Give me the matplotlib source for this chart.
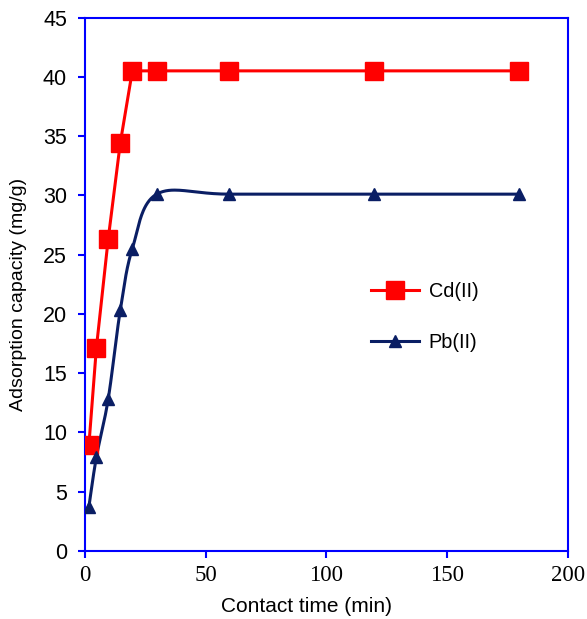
import numpy as np
import matplotlib.pyplot as plt

plt.rcParams["font.family"] = ["Liberation Sans", "DejaVu Sans"]
plt.rcParams["font.serif"] = ["Liberation Serif", "DejaVu Serif"]

# contact time (min) and adsorption capacity (mg/g)
time_min = [1.6, 4.7, 9.6, 14.6, 19.6, 29.7, 59.7, 119.7, 179.7]
cd_capacity = [8.9, 17.1, 26.3, 34.4, 40.5, 40.5, 40.5, 40.5, 40.5]
pb_capacity = [3.7, 7.9, 12.8, 20.3, 25.5, 30.1, 30.1, 30.1, 30.1]

x_ticks = [0, 50, 100, 150, 200]
y_ticks = [0, 5, 10, 15, 20, 25, 30, 35, 40, 45]


def smooth(xs, ys, xspan, yspan, n=40):
    # Catmull-Rom spline, like Excel's "smoothed line"
    px = np.asarray(xs, float) / xspan
    py = np.asarray(ys, float) / yspan
    px = np.concatenate([[px[0]], px, [px[-1]]])
    py = np.concatenate([[py[0]], py, [py[-1]]])
    outx, outy = [], []
    t = np.linspace(0, 1, n)
    for i in range(1, len(px) - 2):
        p0, p1, p2, p3 = [np.array([px[j], py[j]]) for j in (i - 1, i, i + 1, i + 2)]
        c1 = p1 + (p2 - p0) / 6
        c2 = p2 - (p3 - p1) / 6
        for tt in t:
            b = ((1 - tt) ** 3) * p1 + 3 * ((1 - tt) ** 2) * tt * c1 + 3 * (1 - tt) * tt ** 2 * c2 + tt ** 3 * p2
            outx.append(b[0] * xspan)
            outy.append(b[1] * yspan)
    return outx, outy


fig = plt.figure(figsize=(5.87, 6.19), dpi=100)
ax = fig.add_axes([0.1448, 0.1099, 0.8228, 0.8618])

red = "#ff0000"
navy = "#0a1e64"

ax.plot(time_min, cd_capacity, color=red, lw=2.2, zorder=3)
ax.plot(time_min, cd_capacity, ls="none", marker="s", ms=12.5, color=red, zorder=4)

sx, sy = smooth(time_min, pb_capacity, 200 * 0.87, 45)
ax.plot(sx, sy, color=navy, lw=2.2, zorder=3)
ax.plot(time_min, pb_capacity, ls="none", marker="^", ms=9, color=navy, zorder=4)

# legend handles
ax.plot([], [], color=red, lw=2.2, marker="s", ms=12.5, label="Cd(II)")
ax.plot([], [], color=navy, lw=2.2, marker="^", ms=9, label="Pb(II)")
handles, labels = ax.get_legend_handles_labels()
ax.legend(handles, labels, loc="upper left", bbox_to_anchor=(0.555, 0.537),
          frameon=False, handlelength=2.4, handletextpad=0.5, labelspacing=1.6,
          prop={"size": 14.3})

ax.set_xlim(0, 200)
ax.set_ylim(0, 45)

for s in ax.spines.values():
    s.set_color("#0000ff")
    s.set_linewidth(1.5)
ax.tick_params(axis="both", direction="out", length=5, width=1.5, color="#0000ff")
ax.tick_params(axis="y", pad=8)
ax.tick_params(axis="x", pad=5)

ax.set_xticks(x_ticks)
ax.set_yticks(y_ticks)
for lab in ax.get_xticklabels():
    lab.set_family("serif")
    lab.set_fontsize(16.5)
for lab in ax.get_yticklabels():
    lab.set_fontsize(15.5)

ax.set_xlabel("Contact time (min)", fontsize=15)
ax.set_ylabel("Adsorption capacity (mg/g)", fontsize=14)
ax.xaxis.set_label_coords(0.4576, -0.087)
ax.yaxis.set_label_coords(-0.12, 0.48)

fig.savefig("out.png", dpi=100)
